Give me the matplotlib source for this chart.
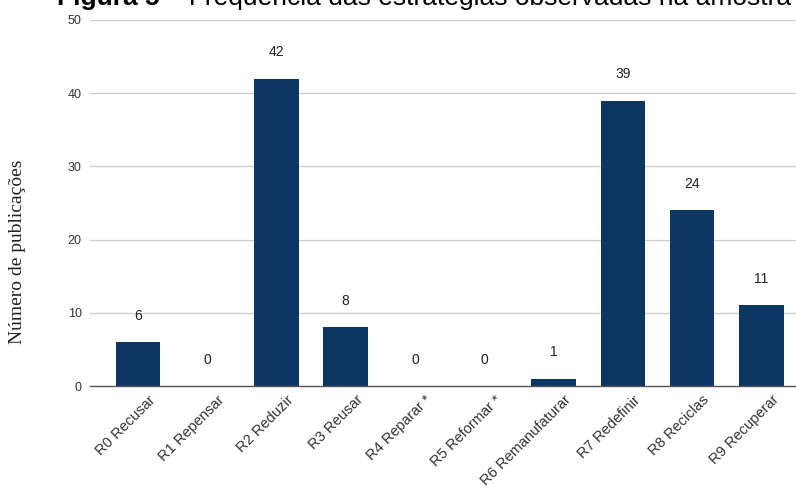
import numpy as np
import matplotlib.pyplot as plt
import matplotlib.transforms as mtransforms

# Data
categories = ['R0 Recusar', 'R1 Repensar', 'R2 Reduzir', 'R3 Reusar', 'R4 Reparar *',
              'R5 Reformar *', 'R6 Remanufaturar', 'R7 Redefinir', 'R8 Reciclas', 'R9 Recuperar']
counts = [6, 0, 42, 8, 0, 0, 1, 39, 24, 11]
yticks = [0, 10, 20, 30, 40, 50]

plt.rcParams['font.family'] = ['Liberation Sans', 'DejaVu Sans']

fig = plt.figure(figsize=(7.96, 4.94), dpi=100)
ax = fig.add_axes([90 / 796, 108 / 494, 706 / 796, 366 / 494])

x = np.arange(len(categories))
ax.bar(x, counts, width=0.64, color='#0b3762', zorder=3)

# Value labels above the bars
for xi, v in zip(x, counts):
    ax.annotate(str(v), (xi, v), xytext=(0, 14), textcoords='offset points',
                ha='center', va='bottom', fontsize=10, color='#222222')

ax.set_xlim(-0.69, 9.5)
ax.set_ylim(0, 50)
ax.set_yticks(yticks)
ax.set_yticklabels([str(t) for t in yticks], fontsize=9, color='#333333')
ax.yaxis.grid(True, color='#cccccc', linewidth=0.9, zorder=0)
ax.tick_params(axis='both', length=0)
ax.tick_params(axis='y', pad=6)

ax.set_xticks(x)
ax.set_xticklabels(categories, rotation=45, ha='right', rotation_mode='anchor',
                   fontsize=10.5, color='#333333')
offset = mtransforms.ScaledTranslation(10 / 100, -2 / 100, fig.dpi_scale_trans)
for lab in ax.get_xticklabels():
    lab.set_transform(lab.get_transform() + offset)

for side in ['top', 'right', 'left']:
    ax.spines[side].set_visible(False)
ax.spines['bottom'].set_color('#555555')
ax.spines['bottom'].set_linewidth(1.0)
ax.spines['bottom'].set_zorder(4)

fig.text(18 / 796, 1 - 252 / 494, 'Número de publicações', rotation=90,
         ha='center', va='center', fontsize=14, family='Liberation Serif', color='#222222')

# Title, cut off at the top like the reference
fig.text(57 / 796, 1 - 5 / 494, 'Figura 5', fontsize=19, fontweight='bold',
         ha='left', va='baseline', color='#000000')
fig.text(152 / 796, 1 - 5 / 494, ' –  Frequência das estratégias observadas na amostra',
         fontsize=19, ha='left', va='baseline', color='#000000')

plt.savefig('out.png', dpi=100)
